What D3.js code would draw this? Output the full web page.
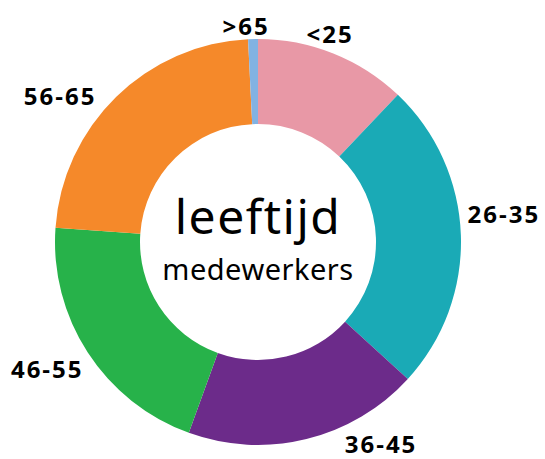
<!DOCTYPE html>
<html>
<head>
<meta charset="utf-8">
<script src="https://cdn.jsdelivr.net/npm/d3@7"></script>
<style>
  body { margin: 0; background: #fff; }
  svg { display: block; }
</style>
</head>
<body>
<svg id="chart"></svg>
<script>
/** * * * * CONSTANTS * * * * */
const width = 545;
const height = 459;

// age groups and their share (percent), clockwise from the top
const categories = ['<25', '26-35', '36-45', '46-55', '56-65', '>65'];
const values = [12.1, 24.7, 18.75, 20.6, 23.1, 0.78];
const colors = ['#E898A6', '#1AAAB6', '#6C2B8A', '#27B24A', '#F5892A', '#82B2E2'];

// small nudges so the labels sit where they do in the original
const labelNudge = [[-18, 17], [3, -20], [65, -34], [-7, -6], [-28, 27], [-6, 26]];

const cx = 258;
const cy = 242;
const outerR = 203;
const innerR = 118;

let svg = d3.select('#chart')
  .attr('width', width)
  .attr('height', height);

let g = svg.append('g')
  .attr('transform', `translate(${cx},${cy})`);

let pie = d3.pie()
  .sort(null)
  .value(function(d) { return d; });

let arc = d3.arc()
  .innerRadius(innerR)
  .outerRadius(outerR);

let labelArc = d3.arc()
  .innerRadius(outerR + 40)
  .outerRadius(outerR + 40);

let arcs = pie(values);

g.selectAll('path')
  .data(arcs)
  .enter()
  .append('path')
  .attr('d', arc)
  .attr('fill', function(d, i) { return colors[i]; });

// slice labels
g.selectAll('text.label')
  .data(arcs)
  .enter()
  .append('text')
  .attr('class', 'label')
  .attr('x', function(d, i) { return labelArc.centroid(d)[0] + labelNudge[i][0]; })
  .attr('y', function(d, i) { return labelArc.centroid(d)[1] + labelNudge[i][1]; })
  .attr('text-anchor', 'middle')
  .attr('dominant-baseline', 'central')
  .style('font-family', '"Open Sans", sans-serif')
  .style('font-weight', 700)
  .style('font-size', '24px')
  .style('letter-spacing', '2px')
  .text(function(d, i) { return categories[i]; });

// centre title
g.append('text')
  .attr('x', 0)
  .attr('y', -8)
  .attr('text-anchor', 'middle')
  .style('font-family', '"Noto Sans", sans-serif')
  .style('font-weight', 400)
  .style('font-size', '48px')
  .style('letter-spacing', '1.5px')
  .text('leeftijd');

g.append('text')
  .attr('x', 0)
  .attr('y', 38)
  .attr('text-anchor', 'middle')
  .style('font-family', '"Noto Sans", sans-serif')
  .style('font-weight', 400)
  .style('font-size', '29px')
  .style('letter-spacing', '0.5px')
  .text('medewerkers');
</script>
</body>
</html>
